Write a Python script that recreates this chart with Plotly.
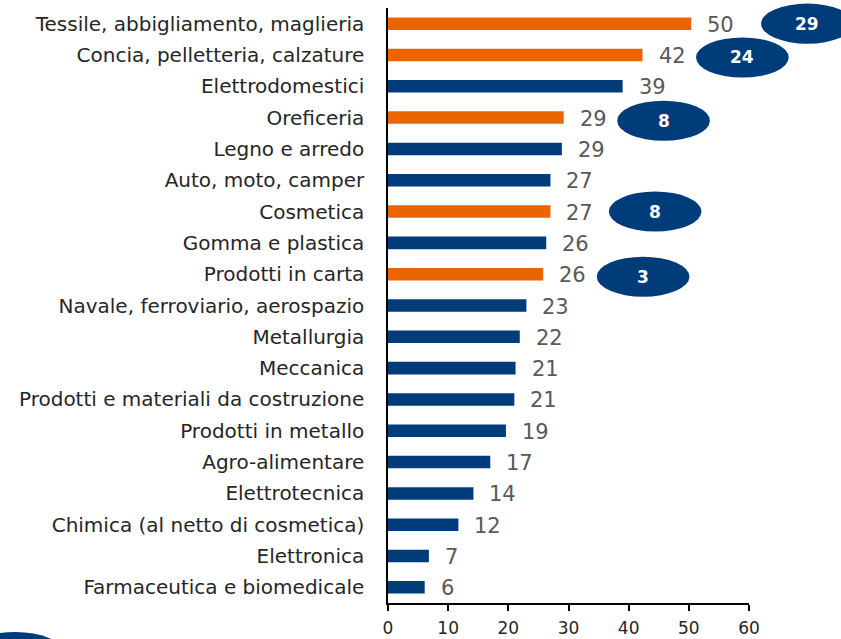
import plotly.graph_objects as go

categories = [
    "Tessile, abbigliamento, maglieria",
    "Concia, pelletteria, calzature",
    "Elettrodomestici",
    "Oreficeria",
    "Legno e arredo",
    "Auto, moto, camper",
    "Cosmetica",
    "Gomma e plastica",
    "Prodotti in carta",
    "Navale, ferroviario, aerospazio",
    "Metallurgia",
    "Meccanica",
    "Prodotti e materiali da costruzione",
    "Prodotti in metallo",
    "Agro-alimentare",
    "Elettrotecnica",
    "Chimica (al netto di cosmetica)",
    "Elettronica",
    "Farmaceutica e biomedicale",
]
values = [50.4, 42.3, 39.0, 29.2, 28.9, 27.0, 27.0, 26.3, 25.8, 23.0, 21.9,
          21.2, 21.0, 19.6, 17.0, 14.2, 11.7, 6.8, 6.1]
labels = [50, 42, 39, 29, 29, 27, 27, 26, 26, 23, 22, 21, 21, 19, 17, 14, 12, 7, 6]
highlighted = ["Tessile, abbigliamento, maglieria", "Concia, pelletteria, calzature",
               "Oreficeria", "Cosmetica", "Prodotti in carta"]
badge_categories = ["Tessile, abbigliamento, maglieria", "Concia, pelletteria, calzature",
                    "Oreficeria", "Cosmetica", "Prodotti in carta"]
badge_values = [29, 24, 8, 8, 3]
x_ticks = [0, 10, 20, 30, 40, 50, 60]

ORANGE = "#EA6500"
BLUE = "#003B7A"
FONT = "DejaVu Sans"

colors = [ORANGE if c in highlighted else BLUE for c in categories]

fig = go.Figure()
fig.add_trace(go.Bar(
    x=values, y=categories, orientation="h",
    marker=dict(color=colors, line=dict(width=0)),
    width=0.4, hoverinfo="skip",
))

# value labels
for c, v, l in zip(categories, values, labels):
    fig.add_annotation(x=v, y=c, text=str(l), showarrow=False, xanchor="left",
                       yanchor="middle", xshift=14, yshift=-1,
                       font=dict(family=FONT, size=21, color="#595959"))

# badges (ellipses) placed relative to the bars
XMAX = 60
n = len(categories)
badge_offsets = [19.3, 16.6, 16.6, 17.4, 16.6]
badge_dy = [0.0, 0.08, 0.1, 0.0, 0.08]
for bc, bv, off, dy in zip(badge_categories, badge_values, badge_offsets, badge_dy):
    i = categories.index(bc)
    v = values[i]
    cx = (v + off) / XMAX
    cy = 1 - (i + 0.5 + dy) / n
    hw = 7.7 / XMAX
    hh = 0.64 / n
    fig.add_shape(type="circle", xref="x domain", yref="y domain",
                  x0=cx - hw, x1=cx + hw, y0=cy - hh, y1=cy + hh,
                  fillcolor=BLUE, line=dict(width=0), layer="above")
    fig.add_annotation(xref="x domain", yref="y domain", x=cx, y=cy, text=f"<b>{bv}</b>",
                       showarrow=False, xanchor="center", yanchor="middle",
                       font=dict(family=FONT, size=17, color="white"))

# partial ellipse peeking at bottom-left corner
fig.add_shape(type="circle", xref="paper", yref="paper",
              x0=-1.161, x1=-0.903, y0=-0.116, y1=-0.0487,
              fillcolor=BLUE, line=dict(width=0))

fig.update_layout(
    width=841, height=639,
    margin=dict(l=388, r=92, t=8, b=36),
    paper_bgcolor="white", plot_bgcolor="white",
    showlegend=False,
    font=dict(family=FONT),
)
fig.update_xaxes(range=[0, 60], tickvals=x_ticks, showgrid=False, zeroline=False,
                 showline=True, linecolor="black", linewidth=1.5,
                 ticks="outside", ticklen=6, tickwidth=1.5, tickcolor="black",
                 ticklabelstandoff=3, automargin=False,
                 tickfont=dict(family=FONT, size=17, color="#262626"))
fig.update_yaxes(autorange="reversed", showgrid=False, zeroline=False,
                 showline=True, linecolor="black", linewidth=1.5, ticks="",
                 ticklabelstandoff=18, automargin=False,
                 tickfont=dict(family=FONT, size=20, color="#262626"))

fig.write_html("out.html", config={"displayModeBar": False},
               post_script="document.body.style.margin='0';")
